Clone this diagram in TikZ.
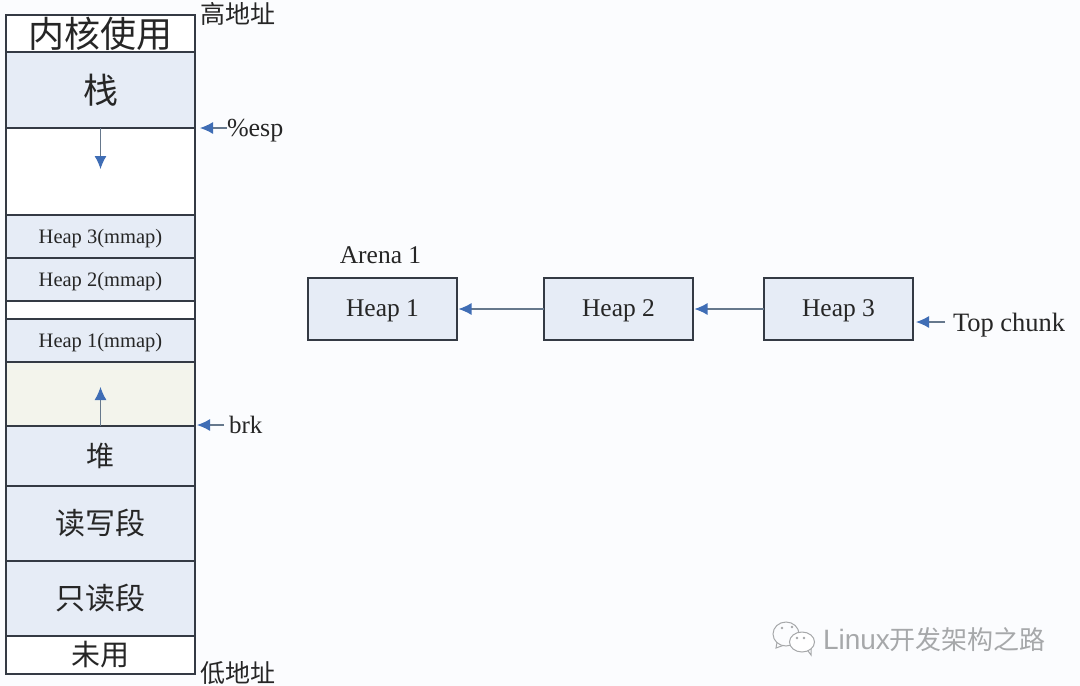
\documentclass[tikz,border=0pt]{standalone}
\usepackage{fontspec}
\setmainfont{Liberation Serif}
\newfontfamily\cjk{Noto Sans CJK SC}
\newfontfamily\marksans{Liberation Sans}
\usetikzlibrary{positioning}
\usetikzlibrary{arrows.meta}
\definecolor{paper}{HTML}{FBFCFE}
\definecolor{cellblue}{HTML}{E6ECF6}
\definecolor{cellsand}{HTML}{F3F4EC}
\definecolor{inkline}{HTML}{343A44}
\definecolor{tipblue}{HTML}{3F6DB5}
\definecolor{tailgray}{HTML}{66788C}
\definecolor{markgray}{HTML}{A6A8AA}
\newcommand{\cjkfs}[1]{\cjk\fontsize{#1}{#1}\selectfont}
\newcommand{\romanfs}[1]{\fontsize{#1}{#1}\selectfont}

\begin{document}
\begin{tikzpicture}[
x=1pt, y=-1pt,
Snode/.style={rectangle, draw=inkline, line width=1.3pt, fill=cellblue, text=black!85, inner sep=0pt, outer sep=0pt, minimum width=189pt},
S0node/.style={Snode, fill=white},
Mnode/.style={Snode, minimum height=43pt, font=\romanfs{20.5}, text depth=0pt},
Hnode/.style={rectangle, draw=inkline, line width=1.3pt, fill=cellblue, text=black!85, inner sep=0pt, outer sep=0pt, minimum width=149pt, minimum height=62pt, font=\romanfs{25.5}, text depth=1.5pt},
Tnode/.style={text=black!85, inner sep=0pt, outer sep=0pt},
Ptr/.style={draw=tailgray, line width=1.2pt, -{Latex[length=13pt, width=12pt, color=tipblue]}}
]
\useasboundingbox[fill=paper] (0,0) rectangle (1080,686);
%Nodes
\node[S0node, minimum height=37pt, font=\cjkfs{36}] (S1) at (100.5,33.5) {内核使用};
\node[Snode, minimum height=76pt, font=\cjkfs{35}] (S2) [below=0pt of S1] {栈};
\node[S0node, minimum height=87pt] (S3) [below=0pt of S2] {};
\node[Mnode] (S4) [below=0pt of S3] {Heap 3(mmap)};
\node[Mnode] (S5) [below=0pt of S4] {Heap 2(mmap)};
\node[S0node, minimum height=18pt] (S6) [below=0pt of S5] {};
\node[Mnode] (S7) [below=0pt of S6] {Heap 1(mmap)};
\node[Snode, fill=cellsand, minimum height=64pt] (S8) [below=0pt of S7] {};
\node[Snode, minimum height=60pt, font=\cjkfs{28}] (S9) [below=0pt of S8] {堆};
\node[Snode, minimum height=75pt, font=\cjkfs{30}] (S10) [below=0pt of S9] {读写段};
\node[Snode, minimum height=75pt, font=\cjkfs{30}] (S11) [below=0pt of S10] {只读段};
\node[S0node, minimum height=38pt, font=\cjkfs{29}] (S12) [below=0pt of S11] {未用};

\node[Tnode, font=\cjkfs{25}] (High) at (238,14) {高地址};
\node[Tnode, font=\cjkfs{25}] (Low) at (238,673) {低地址};
\node[Tnode, font=\romanfs{26}, text depth=0pt, anchor=west] (Esp) at (227,128) {\%esp};
\node[Tnode, font=\romanfs{25}, anchor=west] (Brk) at (229,425) {brk};

\node[Hnode] (H1) at (382.5,309) {Heap 1};
\node[Hnode] (H2) [right=87pt of H1] {Heap 2};
\node[Hnode] (H3) [right=71pt of H2] {Heap 3};
\node[Tnode, font=\romanfs{25.5}] (Arena) [above=14pt of H1, xshift=-2pt] {Arena 1};
\node[Tnode, font=\romanfs{26.5}, text depth=0pt, anchor=west] (Top) at (953,322) {Top chunk};

\coordinate (Down) at (100.5,169);
\coordinate (Up) at (100.5,387);
\coordinate (EspTip) at (200,128);
\coordinate (BrkTip) at (197,425);
\coordinate (TopTip) at (916,322);

%Lines
\draw[Ptr] (S2.south) -- (Down);
\draw[Ptr] (S9.north) -- (Up);
\draw[Ptr] (Esp.west) -- (EspTip);
\draw[Ptr, shorten <=5pt] (Brk.west) -- (BrkTip);
\draw[Ptr, shorten <=8pt] (Top.west) -- (TopTip);
\draw[Ptr, shorten >=1.5pt] (H2.west) -- (H1.east);
\draw[Ptr, shorten >=1.5pt] (H3.west) -- (H2.east);

%Watermark
\draw[markgray, fill=paper, line width=1pt] (786,634) ellipse (13pt and 12pt);
\draw[markgray, line width=1pt] (777,642.5) -- (776,648) -- (783,645.5);
\fill[markgray] (782,628) circle (1.3pt) (792,627) circle (1.3pt);
\draw[markgray, fill=white, line width=1pt] (802,642) ellipse (12.5pt and 10pt);
\draw[markgray, line width=1pt] (808,651) -- (811,655) -- (811,648.5);
\fill[markgray] (797,638) circle (1.3pt) (804,638) circle (1.3pt);
\node[Tnode, text=markgray, font=\marksans\romanfs{28}, anchor=west] (Mark) at (823,640) {Linux{\cjkfs{26}开发架构之路}};
\end{tikzpicture}
\end{document}
